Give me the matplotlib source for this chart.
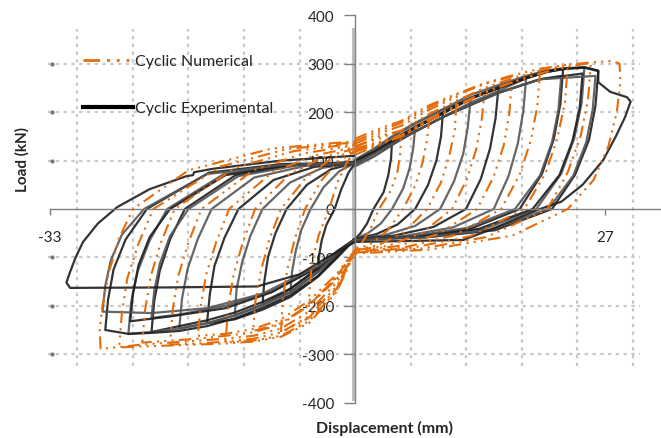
import matplotlib
matplotlib.use('Agg')
import matplotlib.pyplot as plt
from matplotlib.lines import Line2D

plt.rcParams['font.family'] = ['Lato', 'DejaVu Sans']

# experimental hysteresis loops (displacement mm, load kN)
exp_loops_x = [
    [0, 2, 4, 3.9, 3.6, 3.1, 2.0, 1.3, 0.6, 0, -2, -4, -3.9, -3.6, -3.1, -2.2, -1.5, -0.7, 0],
    [0, 2, 4, 6.5, 6.3, 5.9, 5.2, 4.0, 2.8, 1.4, 0, -2, -4, -7, -6.8, -6.4, -5.8, -4.8, -3.4, -1.7, 0],
    [0, 2, 4, 6.5, 9.5, 9.3, 8.8, 7.9, 6.5, 4.6, 2.3, 0, -2, -4, -7, -10, -9.8, -9.4, -8.6, -7.4, -5.2, -2.6, 0],
    [0, 2, 4, 6.5, 9.5, 12.5, 12.2, 11.7, 10.7, 9.2, 6.5, 3.2, 0, -2, -4, -7, -10, -13, -12.8, -12.2, -11.3, -10, -7, -3.5, 0],
    [0, 2, 4, 6.5, 9.5, 12.5, 15.5, 15.2, 14.6, 13.6, 12, 8.5, 4.2, 0,
     -2, -4, -7, -10, -13, -16, -15.7, -15.2, -14.1, -12.6, -8.8, -4.4, 0],
    [0, 2, 4, 6.5, 9.5, 12.5, 15.5, 18.5, 18.2, 17.6, 16.6, 15, 10.6, 5.3, 0,
     -2, -4, -7, -10, -13, -16, -19, -18.7, -18.1, -17, -15.5, -10.9, -5.4, 0],
    [0, 2, 4, 6.5, 9.5, 12.5, 15.5, 18.5, 20.7, 22.5, 22.2, 21.5, 20.2, 17.8, 12.6, 6.3, 0,
     -2, -4, -7, -10, -13, -16, -19, -22, -21.7, -21.1, -20, -18.4, -12.9, -6.4, 0],
    [0, 2, 4, 6.5, 9.5, 12.5, 15.5, 18.5, 20.7, 22.5, 24.8, 24.5, 23.7, 22.3, 19.6, 13.9, 7, 0,
     -2, -4, -7, -10, -13, -16, -19, -22, -24.5, -24.2, -23.5, -22.2, -20.3, -14.2, -7.1, 0],
    [0, 2, 4, 6.5, 9.5, 12.5, 15.5, 18.5, 20.7, 22.5, 24.8, 26.3, 26.0, 25.3, 23.8, 21.3, 15.1, 7.5, 0,
     -2, -4, -7, -10, -13, -16, -19, -22, -24.5, -27, -26.7, -26.1, -24.8, -22.5, -15.8, -7.9, 0],
    [0, 4, 9.5, 15.5, 20, 22.3, 22, 21.3, 20, 17.3, 12.1, 6, 0,
     -4, -9, -14, -19, -22, -21.7, -21.1, -20, -18, -12.6, -6.3, 0],
    [0, 4, 9.5, 15.5, 20, 24.6, 24.3, 23.5, 22.1, 19.2, 13.4, 6.7, 0,
     -4, -9, -14, -20, -24.3, -24, -23.4, -22.2, -20, -14, -7, 0],
    [0, 4, 9.5, 15.5, 20, 26, 25.7, 25, 23.6, 20.9, 14.6, 7.3, 0,
     -4, -10, -16, -22, -27.3, -27, -26.4, -25.2, -22.8, -16, -8, 0],
    [0, 2, 4, 6.5, 9.5, 12.5, 15.5, 18.5, 20.7, 22.5, 24.8, 26.3, 26.3, 27.6, 29.4, 29.8, 29.2, 28.2, 26.8, 24.6, 22.3, 20,
     15, 11.7, 6, 0, -3, -6, -10.6, -20, -30.8, -31.2, -30.8, -30.2, -29.4, -27.8, -25.7, -22.2, -18.2, -17.5, -17.4,
     -15.4, -8, 0],
]
exp_loops_y = [
    [95, 115, 140, 105, 70, 35, 0, -30, -50, -62, -95, -130, -98, -65, -33, 0, 40, 75, 95],
    [88, 108, 132, 168, 126, 84, 42, 0, -30, -50, -62, -95, -130, -172, -129, -86, -43, 0, 45, 78, 95],
    [95, 115, 140, 168, 198, 150, 100, 50, 0, -32, -52, -62, -88, -122, -165, -198, -149, -99, -50, 0, 50, 82, 95],
    [100, 122, 148, 176, 206, 228, 170, 114, 57, 0, -35, -54, -62, -95, -130, -172, -198, -220, -165, -110, -55, 0, 55, 85, 95],
    [95, 115, 140, 168, 198, 228, 250, 188, 125, 62, 0, -37, -55, -62,
     -102, -140, -182, -208, -228, -236, -177, -118, -59, 0, 60, 87, 95],
    [90, 108, 132, 160, 190, 220, 244, 270, 203, 135, 68, 0, -38, -56, -62,
     -95, -130, -172, -198, -220, -236, -247, -185, -124, -62, 0, 65, 89, 95],
    [95, 115, 140, 168, 198, 228, 250, 270, 283, 289, 217, 145, 72, 0, -40, -57, -62,
     -90, -124, -165, -192, -214, -230, -242, -254, -190, -127, -63, 0, 70, 91, 95],
    [102, 124, 150, 178, 206, 236, 256, 275, 286, 291, 292, 219, 146, 73, 0, -42, -58, -62,
     -95, -130, -172, -198, -220, -236, -247, -254, -258, -193, -129, -65, 0, 72, 92, 95],
    [95, 115, 140, 168, 198, 228, 250, 270, 283, 289, 292, 285, 214, 143, 71, 0, -44, -59, -62,
     -100, -138, -178, -204, -226, -242, -252, -256, -258, -250, -188, -125, -63, 0, 75, 93, 95],
    [97, 135, 190, 240, 268, 275, 206, 138, 69, 0, -39, -57, -64,
     -120, -170, -200, -218, -225, -169, -113, -56, 0, 68, 90, 97],
    [97, 135, 190, 240, 268, 280, 210, 140, 70, 0, -41, -58, -64,
     -120, -172, -205, -222, -232, -174, -116, -58, 0, 70, 91, 97],
    [95, 135, 190, 240, 268, 275, 206, 138, 69, 0, -43, -59, -64,
     -118, -175, -205, -215, -212, -159, -106, -53, 0, 72, 91, 95],
    [100, 118, 142, 170, 200, 230, 252, 272, 285, 290, 293, 286, 262, 242, 231, 222, 190, 150, 100, 50, 15, 0,
     -40, -64, -66, -68, -100, -135, -160, -162, -163, -152, -130, -100, -68, -30, 4, 41, 68, 70, 76,
     83, 100, 110],
]

# numerical hysteresis loops
num_loops_x = [
    [0, 2.5, 5, 4.9, 4.6, 3.9, 2.6, 1.7, 0.8, 0, -2, -5, -4.9, -4.6, -3.9, -2.8, -1.9, -0.9, 0],
    [0, 2.5, 5, 8, 7.8, 7.3, 6.5, 5.2, 3.5, 1.7, 0, -2, -5, -8, -7.8, -7.3, -6.5, -5.4, -3.6, -1.8, 0],
    [0, 2.5, 5, 8, 11, 10.8, 10.2, 9.3, 7.8, 5.3, 2.6, 0, -2, -5, -8, -11, -10.8, -10.2, -9.3, -8.0, -5.3, -2.7, 0],
    [0, 2.5, 5, 8, 11, 14, 13.7, 13.1, 12.1, 10.5, 7.2, 3.6, 0,
     -2, -5, -8, -11, -14, -13.7, -13.1, -12.1, -10.8, -7.2, -3.6, 0],
    [0, 2.5, 5, 8, 11, 14, 17, 16.7, 16.1, 15, 13.2, 9, 4.5, 0,
     -2, -5, -8, -11, -14, -17, -16.7, -16.1, -15, -13.6, -9, -4.5, 0],
    [0, 2.5, 5, 8, 11, 14, 17, 20, 19.7, 19, 17.8, 15.8, 10.8, 5.4, 0,
     -2, -5, -8, -11, -14, -17, -20, -19.7, -19.1, -18, -16.6, -11, -5.5, 0],
    [0, 2.5, 5, 8, 11, 14, 17, 20, 23, 22.7, 21.9, 20.6, 18.3, 12.5, 6.2, 0,
     -2, -5, -8, -11, -14, -17, -20, -23, -22.7, -22.1, -21, -19.5, -13, -6.5, 0],
    [0, 2.5, 5, 8, 11, 14, 17, 20, 23, 25.5, 25.2, 24.4, 23, 20.8, 14.2, 7.1, 0,
     -2, -5, -8, -11, -14, -17, -20, -23, -25.5, -25.2, -24.6, -23.4, -21.8, -14.5, -7.3, 0],
    [0, 2.5, 5, 8, 11, 14, 17, 20, 23, 25.5, 27.9, 28.6, 28.7, 28.3, 27.4, 25.8, 23, 17, 8, 0,
     -2, -5, -8, -11, -14, -17, -20, -23, -25.5, -27.5, -27.6, -27.3, -26.6, -25.5, -24, -18, -9, 0],
]
num_loops_y = [
    [128, 150, 162, 116, 78, 39, 0, -40, -68, -85, -140, -200, -158, -105, -53, 0, 55, 95, 120],
    [112, 132, 150, 185, 144, 96, 48, 0, -45, -72, -85, -165, -225, -255, -184, -123, -61, 0, 60, 98, 120],
    [135, 155, 172, 205, 232, 165, 110, 55, 0, -48, -74, -85, -142, -198, -236, -252, -195, -130, -65, 0, 65, 102, 122],
    [118, 135, 150, 182, 212, 240, 185, 123, 62, 0, -50, -76, -85,
     -170, -232, -262, -272, -276, -201, -134, -67, 0, 70, 106, 125],
    [140, 160, 178, 210, 236, 258, 274, 200, 133, 67, 0, -52, -77, -85,
     -135, -190, -228, -248, -258, -262, -204, -136, -68, 0, 75, 110, 128],
    [125, 138, 152, 186, 214, 242, 262, 280, 212, 141, 71, 0, -54, -79, -88,
     -160, -222, -255, -268, -274, -278, -280, -207, -138, -69, 0, 80, 115, 132],
    [145, 165, 182, 214, 238, 260, 276, 290, 298, 221, 148, 74, 0, -56, -80, -90,
     -145, -200, -238, -255, -262, -268, -272, -276, -210, -140, -70, 0, 85, 120, 135],
    [122, 134, 150, 182, 212, 240, 262, 280, 294, 302, 227, 151, 76, 0, -58, -82, -90,
     -172, -236, -264, -274, -278, -280, -282, -284, -286, -214, -142, -71, 0, 88, 124, 138],
    [130, 145, 162, 196, 224, 250, 270, 286, 298, 303, 306, 300, 262, 200, 130, 60, 0, -55, -84, -92,
     -152, -212, -247, -262, -268, -272, -276, -280, -285, -289, -250, -200, -130, -60, 0, 80, 125, 140],
]

y_ticks = [-400, -300, -200, -100, 0, 100, 200, 300, 400]
x_ticks = [-33, 27]
grid_x = [-30, -24, -18, -12, -6, 6, 12, 18, 24, 30]
grid_y = [-300, -200, -100, 100, 200, 300]

orange = '#e46c0a'
num_style = (0, (6, 2.5, 1, 2.5, 1, 2.5, 1, 2.5))

fig = plt.figure(figsize=(6.61, 4.39), dpi=100)
ax = fig.add_axes([0, 0, 1, 1])
ax.set_xlim(-355 / 9.25, (661 - 355) / 9.25)
ax.set_ylim((210 - 439) / 0.484, 210 / 0.484)

# dotted grid
ax.hlines(grid_y, -33.2, 30.8, colors='#c8c8c8', linestyles=(0, (1.5, 2)), lw=1.6, zorder=0)
ax.vlines(grid_x, -325, 372, colors='#c8c8c8', linestyles=(0, (1.5, 2)), lw=1.6, zorder=0)
ax.plot([-32.8] * len(grid_y), grid_y, 'o', ms=2, color='#777777', zorder=0)
ax.plot([-0.25, -0.25], [-392, 372], color='#bdbdbd', lw=2.2, zorder=0)

for i, (lx, ly) in enumerate(zip(exp_loops_x, exp_loops_y)):
    c = '#1e1e1e' if i % 2 == 0 else '#555555'
    ax.plot(lx, ly, color=c, lw=1.6, alpha=0.9, zorder=2)
for lx, ly in zip(num_loops_x, num_loops_y):
    ax.plot(lx, ly, color=orange, lw=1.5, linestyle=num_style, zorder=3)

for side in ['top', 'right']:
    ax.spines[side].set_visible(False)
ax.spines['left'].set_position(('data', 0))
ax.spines['bottom'].set_position(('data', 0))
ax.spines['left'].set_bounds(-400, 400)
ax.spines['bottom'].set_bounds(-33, 33)
for side in ['left', 'bottom']:
    ax.spines[side].set_color('#808080')
    ax.spines[side].set_linewidth(1.0)
ax.set_yticks(y_ticks)
ax.set_yticklabels([str(v) for v in y_ticks])
ax.set_xticks(x_ticks)
ax.set_xticklabels([str(v) for v in x_ticks])
ax.tick_params(axis='y', direction='out', length=8, width=1, color='#808080',
               pad=7, labelsize=11, labelcolor='#262626')
ax.tick_params(axis='x', direction='out', length=4, width=1, color='#808080',
               pad=11, labelsize=11, labelcolor='#262626')

fig.text(22 / 661, 1 - 160 / 439, 'Load (kN)', rotation=90, ha='center', va='center',
         fontsize=11, fontweight='bold', color='#262626')
fig.text(385 / 661, 1 - 428 / 439, 'Displacement (mm)', ha='center', va='center',
         fontsize=11.5, fontweight='bold', color='#262626')

handles = [Line2D([], [], color=orange, lw=2, linestyle=num_style),
           Line2D([], [], color='black', lw=3)]
ax.legend(handles, ['Cyclic Numerical', 'Cyclic Experimental'], loc='upper left',
          bbox_to_anchor=(75 / 661, 1 - 47 / 439), frameon=False, fontsize=11.5,
          handlelength=3.1, handletextpad=0.15, labelspacing=2.05, borderpad=0,
          labelcolor='#262626')

fig.savefig('out.png', dpi=100)
